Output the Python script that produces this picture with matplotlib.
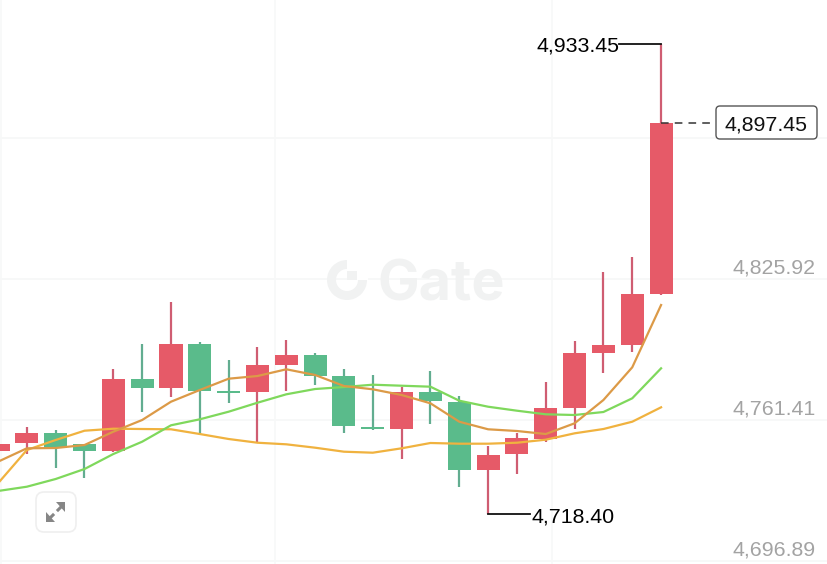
import matplotlib
matplotlib.use("Agg")
import matplotlib.pyplot as plt
from matplotlib.patches import FancyBboxPatch, Wedge, Rectangle
from matplotlib.transforms import Affine2D

# candles, left to right
opens = [4747.09, 4750.75, 4755.60, 4750.43, 4747.23, 4780.03, 4776.05, 4796.04, 4774.82, 4774.08, 4786.71, 4791.29,
         4781.54, 4758.34, 4757.43, 4774.36, 4769.78, 4738.40, 4745.72, 4752.85, 4766.90, 4792.20, 4795.86, 4819.19]
closes = [4750.57, 4755.60, 4748.60, 4747.09, 4780.03, 4776.05, 4796.04, 4774.82, 4773.90, 4786.44, 4791.29, 4781.54,
          4758.67, 4757.43, 4774.36, 4769.97, 4738.40, 4745.53, 4753.04, 4766.76, 4792.06, 4795.72, 4819.19, 4897.45]
highs = [4750.57, 4758.34, 4756.83, 4748.74, 4784.74, 4796.04, 4815.53, 4796.96, 4788.86, 4794.95, 4798.01, 4791.93,
         4784.88, 4782.14, 4776.65, 4783.83, 4772.53, 4749.52, 4755.60, 4778.66, 4797.69, 4829.12, 4835.99, 4933.45]
lows = [4747.09, 4745.72, 4739.59, 4734.74, 4747.00, 4765.21, 4772.07, 4754.55, 4769.32, 4751.48, 4774.82, 4777.42,
        4755.32, 4756.83, 4743.43, 4759.58, 4730.76, 4718.40, 4736.84, 4751.48, 4757.43, 4783.05, 4792.66, 4818.60]

ma_fast = [4742.33, 4748.46, 4748.60, 4749.97, 4756.06, 4761.41, 4769.78, 4775.14, 4780.31, 4781.54, 4784.61, 4782.00,
           4776.97, 4775.46, 4772.85, 4769.05, 4760.63, 4757.16, 4756.38, 4755.00, 4759.90, 4770.56, 4785.52, 4814.02]
ma_mid = [4728.93, 4730.89, 4734.42, 4738.99, 4745.85, 4751.48, 4758.99, 4761.73, 4765.21, 4769.32, 4773.17, 4775.59,
          4776.51, 4777.56, 4777.10, 4776.65, 4770.24, 4767.49, 4765.67, 4764.02, 4763.70, 4765.07, 4771.34, 4785.06]
ma_slow = [4732.45, 4747.68, 4752.26, 4756.51, 4757.43, 4757.29, 4757.16, 4755.00, 4752.72, 4751.02, 4750.29, 4748.74,
           4746.91, 4746.45, 4748.46, 4750.89, 4750.57, 4750.57, 4751.02, 4752.40, 4755.32, 4757.29, 4760.63, 4767.22]

y_ticks = [4890.43, 4825.92, 4761.41, 4696.89]
y_tick_labels = ["", "4,825.92", "4,761.41", "4,696.89"]
x_grid = [0.1, 9.6, 19.2]

RED = "#e65a68"
RED_WICK = "#cf5d72"
GREEN = "#5abb8b"
GREEN_WICK = "#62ad90"
FONT = "Liberation Sans"
LABEL_SIZE = 15.4

fig = plt.figure(figsize=(8.28, 5.64), dpi=100)
ax = fig.add_axes([0, 0, 1, 1])
ax.set_xlim(0.069, 28.79)
ax.set_ylim(4695.53, 4953.57)
ax.axis("off")

for v in y_ticks:
    ax.axhline(v, color="#f6f7f7", lw=1.2, zorder=0)
for v in x_grid:
    ax.axvline(v, color="#f7f8f8", lw=1.2, zorder=0)

# everything that is page furniture is placed in image pixels, y going down
px = Affine2D().scale(1, -1).translate(0, 564)

# watermark
logo = "#f1f2f2"
ax.add_patch(Wedge((347, 280), 20, 0, 360, width=9, color=logo, transform=px, zorder=1, lw=0))
ax.add_patch(Rectangle((347, 260), 21, 20, color="white", transform=px, zorder=1, lw=0))
ax.add_patch(Rectangle((347, 271), 10, 9, color=logo, transform=px, zorder=1, lw=0))
ax.text(378, 280, "Gate", transform=px, fontsize=40, fontweight="bold", family="Inter",
        color=logo, va="center_baseline", ha="left", zorder=1)

x = list(range(len(opens)))
for i in x:
    up = closes[i] >= opens[i]
    if highs[i] > lows[i]:
        ax.vlines(i, lows[i], highs[i], color=RED_WICK if up else GREEN_WICK, lw=1.6, zorder=2)
    ax.bar(i, abs(closes[i] - opens[i]), bottom=min(opens[i], closes[i]), width=0.8,
           color=RED if up else GREEN, lw=0, zorder=3)

ax.plot(x, ma_slow, color="#f0b23f", lw=1.6, zorder=4)
ax.plot(x, ma_mid, color="#7fd85c", lw=1.6, zorder=4)
ax.plot(x, ma_fast, color="#dc9a47", lw=1.6, zorder=4)

# price labels on the right
for v, label in zip(y_ticks, y_tick_labels):
    ax.annotate(label, (1, v), xycoords=("axes fraction", "data"), xytext=(-12, 2), textcoords="offset pixels",
                ha="right", va="bottom", fontsize=LABEL_SIZE, color="#a3a3a3", family=FONT)

# high and low markers
hi = highs.index(max(highs))
lo = lows.index(min(lows))
ax.plot([hi - 1.45, hi], [highs[hi], highs[hi]], color="#111111", lw=1.3, zorder=5)
ax.annotate(f"{highs[hi]:,.2f}", (hi - 1.45, highs[hi]), xytext=(0, 0), textcoords="offset pixels", ha="right",
            va="center_baseline", fontsize=LABEL_SIZE, color="black", family=FONT, zorder=6)
ax.plot([lo, lo + 1.45], [lows[lo], lows[lo]], color="#111111", lw=1.3, zorder=5)
ax.annotate(f"{lows[lo]:,.2f}", (lo + 1.5, lows[lo]), xytext=(0, -1), textcoords="offset pixels", ha="left",
            va="center_baseline", fontsize=LABEL_SIZE, color="black", family=FONT, zorder=6)

# last price tag
last = closes[-1]
ax.plot([len(x) - 1, 24.87], [last, last], color="#333333", lw=1.1, ls=(0, (5, 4)), zorder=5)
ax.add_patch(FancyBboxPatch((716, 106), 101, 33, boxstyle="round,pad=0,rounding_size=4", fc="white", ec="#555555",
                            lw=1.0, transform=px, zorder=6))
ax.text(766, 123, f"{last:,.2f}", transform=px, ha="center", va="center_baseline", fontsize=LABEL_SIZE,
        color="#111111", family=FONT, zorder=7)

# fullscreen button
ax.add_patch(FancyBboxPatch((36, 492), 40, 40, boxstyle="round,pad=0,rounding_size=8", fc="white", ec="#efefef",
                            lw=1.2, transform=px, zorder=6))
ax.plot([49, 53], [519, 515], color="#868686", lw=2.2, transform=px, zorder=7)
ax.plot([58, 62], [510, 506], color="#868686", lw=2.2, transform=px, zorder=7)
ax.fill([46, 46, 55], [512, 522, 522], color="#868686", transform=px, zorder=7, lw=0)
ax.fill([56, 65, 65], [502, 502, 512], color="#868686", transform=px, zorder=7, lw=0)

fig.savefig("out.png", dpi=100, facecolor="white")
